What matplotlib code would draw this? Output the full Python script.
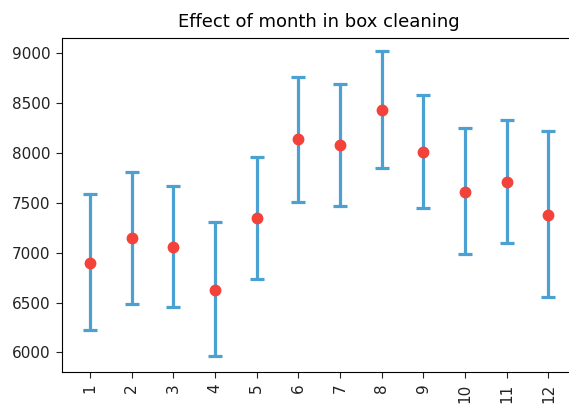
import matplotlib
matplotlib.use("Agg")
import numpy as np
import matplotlib.pyplot as plt

# month-level effect: mean with lower/upper bounds
months = [1, 2, 3, 4, 5, 6, 7, 8, 9, 10, 11, 12]
month_labels = ["1", "2", "3", "4", "5", "6", "7", "8", "9", "10", "11", "12"]
means = [6900, 7148, 7054, 6623, 7348, 8137, 8077, 8435, 8010, 7612, 7706, 7382]
lower = [6225, 6489, 6459, 5964, 6740, 7509, 7465, 7853, 7449, 6987, 7094, 6553]
upper = [7586, 7806, 7669, 7308, 7963, 8763, 8689, 9027, 8579, 8251, 8331, 8224]

W, H, DPI = 569, 405, 100


def main():
    m = np.array(means)
    yerr = [m - np.array(lower), np.array(upper) - m]

    fig = plt.figure(figsize=(W / DPI, H / DPI), dpi=DPI)
    left, right, top, bottom = 61.7, 576.7, 37.7, 372.3
    ax = fig.add_axes([left / W, 1 - bottom / H, (right - left) / W, (bottom - top) / H])

    ax.errorbar(months, means, yerr=yerr, fmt="none", ecolor="#4ba1d1",
                elinewidth=2.3, capsize=5, capthick=2.3)
    ax.plot(months, means, "o", color="#f2423a", markersize=7.5, zorder=3)

    ax.set_xlim(0.32, 12.68)
    ax.set_ylim(5800, 9157)
    ax.set_xticks(months)
    ax.set_xticklabels(month_labels, rotation=90)
    ax.set_yticks([6000, 6500, 7000, 7500, 8000, 8500, 9000])
    ax.tick_params(labelsize=11, colors="#222222", length=4.5)
    ax.spines["right"].set_visible(False)  # cut off by the image edge in the original
    ax.set_title("Effect of month in box cleaning", fontsize=13, pad=8)

    fig.savefig("out.png", dpi=DPI)


if __name__ == "__main__":
    main()
